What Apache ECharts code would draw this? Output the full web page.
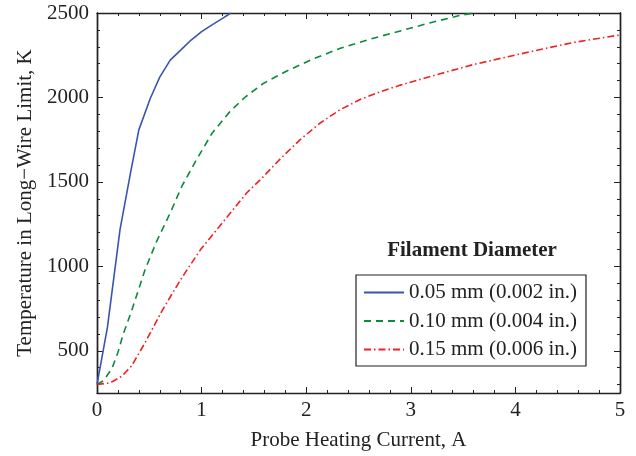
<!doctype html>
<html>
<head>
<meta charset="UTF-8">
<title>Long-wire limit</title>
<script src="https://cdn.jsdelivr.net/npm/echarts@6/dist/echarts.min.js"></script>
<style>
  html, body { margin: 0; padding: 0; background: #fff; }
  #chart { width: 636px; height: 456px; }
</style>
</head>
<body>
<div id="chart"></div>
<script>
// values (current in A, temperature in K)
var blueX  = [0, 0.05, 0.1, 0.22, 0.32, 0.4, 0.51, 0.6, 0.7, 0.8, 0.9, 1.0, 1.1, 1.2, 1.28];
var blueY  = [300, 470, 640, 1217, 1552, 1808, 1995, 2120, 2221, 2280, 2340, 2390, 2430, 2468, 2500];
var greenX = [0, 0.06, 0.14, 0.2, 0.25, 0.33, 0.46, 0.57, 0.7, 0.81, 0.95, 1.1, 1.27, 1.42, 1.59, 1.8, 2.04, 2.32, 2.61, 2.9, 3.18, 3.47, 3.6];
var greenY = [300, 322, 391, 490, 597, 735, 981, 1148, 1316, 1473, 1630, 1788, 1916, 2004, 2083, 2152, 2221, 2290, 2345, 2394, 2441, 2486, 2500];
var redX   = [0, 0.1, 0.15, 0.24, 0.33, 0.46, 0.62, 0.8, 0.99, 1.21, 1.43, 1.56, 1.75, 1.94, 2.13, 2.32, 2.52, 2.71, 2.9, 3.09, 3.28, 3.6, 3.92, 4.24, 4.55, 5.0];
var redY   = [300, 308, 318, 351, 410, 548, 735, 922, 1099, 1266, 1434, 1512, 1635, 1749, 1847, 1926, 1989, 2034, 2073, 2107, 2140, 2195, 2240, 2284, 2325, 2370];

var seriesNames = ['0.05 mm (0.002 in.)', '0.10 mm (0.004 in.)', '0.15 mm (0.006 in.)'];
var yMajor = [500, 1000, 1500, 2000, 2500];
var yMinor = [300, 400, 600, 700, 800, 900, 1100, 1200, 1300, 1400, 1600, 1700, 1800, 1900, 2100, 2200, 2300, 2400];

function pairs(xs, ys) {
  var out = [];
  for (var i = 0; i < xs.length; i++) out.push([xs[i], ys[i]]);
  return out;
}

var font = 'Liberation Serif';
var ink = '#222';

function plain(v) { return String(v); }

function xAx(pos, showLabel) {
  return {
    type: 'value', position: pos, min: 0, max: 5, interval: 1,
    axisLine: { show: true, onZero: false, lineStyle: { color: ink, width: 1.4 } },
    axisTick: { show: true, inside: true, length: 6, lineStyle: { color: ink } },
    minorTick: { show: true, splitNumber: 5, length: 3, lineStyle: { color: ink } },
    axisLabel: { show: showLabel, formatter: plain, fontFamily: font, fontSize: 21, color: ink, margin: 7 },
    splitLine: { show: false },
    name: showLabel ? 'Probe Heating Current, A' : '',
    nameLocation: 'middle', nameGap: 37,
    nameTextStyle: { fontFamily: font, fontSize: 21, color: ink }
  };
}

function yAx(pos, ticks, len, showLabel) {
  return {
    type: 'value', position: pos, min: 250, max: 2500,
    axisLine: { show: true, onZero: false, lineStyle: { color: ink, width: 1.4 } },
    axisTick: { show: true, inside: true, length: len, customValues: ticks, lineStyle: { color: ink } },
    axisLabel: { show: showLabel, customValues: ticks, formatter: plain, fontFamily: font, fontSize: 21, color: ink, margin: 8 },
    splitLine: { show: false },
    name: showLabel ? 'Temperature in Long\u2212Wire Limit, K' : '',
    nameLocation: 'middle', nameGap: 60,
    nameTextStyle: { fontFamily: font, fontSize: 21, color: ink }
  };
}

var chart = echarts.init(document.getElementById('chart'), null, { renderer: 'canvas' });

var option = {
  backgroundColor: '#fff',
  animation: false,
  grid: { left: 97, right: 16, top: 13, bottom: 63 },
  xAxis: [xAx('bottom', true), xAx('top', false)],
  yAxis: [
    yAx('left', yMajor, 6, true),
    yAx('left', yMinor, 3, false),
    yAx('right', yMajor, 6, false),
    yAx('right', yMinor, 3, false)
  ],
  legend: {
    orient: 'vertical', left: 356, top: 275,
    backgroundColor: '#fff', borderColor: ink, borderWidth: 1.2,
    padding: [7, 9, 6, 7],
    itemWidth: 40, itemHeight: 14, itemGap: 7.5,
    itemStyle: { opacity: 0 },
    textStyle: { fontFamily: font, fontSize: 21, color: ink, lineHeight: 21 },
    data: seriesNames
  },
  graphic: [{
    type: 'text', x: 472, y: 251,
    style: {
      text: 'Filament Diameter', align: 'center', verticalAlign: 'middle',
      font: 'bold 21px "Liberation Serif"', fill: ink
    }
  }],
  series: [
    {
      name: seriesNames[0], type: 'line', data: pairs(blueX, blueY),
      symbol: 'none',
      lineStyle: { color: '#3a55b0', width: 1.6 }, itemStyle: { color: '#3a55b0' }
    },
    {
      name: seriesNames[1], type: 'line', data: pairs(greenX, greenY),
      symbol: 'none',
      lineStyle: { color: '#0b8a3c', width: 1.6, type: [7, 5] }, itemStyle: { color: '#0b8a3c' }
    },
    {
      name: seriesNames[2], type: 'line', data: pairs(redX, redY),
      symbol: 'none',
      lineStyle: { color: '#ee2222', width: 1.6, type: [7, 3, 1.5, 3] }, itemStyle: { color: '#ee2222' }
    }
  ]
};

chart.setOption(option);
</script>
</body>
</html>
